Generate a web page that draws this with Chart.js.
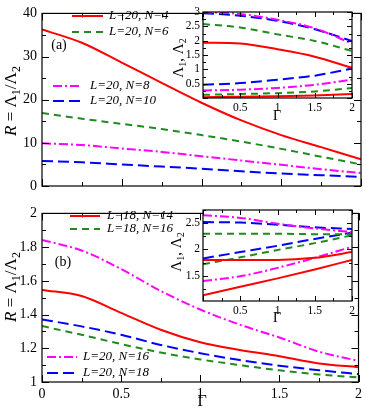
<!DOCTYPE html>
<html>
<head>
<meta charset="utf-8">
<script src="https://cdn.jsdelivr.net/npm/chart.js@4.4.0/dist/chart.umd.min.js"></script>
<style>
  body { margin: 0; background: #fff; width: 366px; height: 414px; position: relative; overflow: hidden; }
  canvas { position: absolute; }
</style>
</head>
<body>
<canvas id="mainA" width="366" height="200" style="left:0;top:0"></canvas>
<canvas id="mainB" width="366" height="214" style="left:0;top:200px"></canvas>
<canvas id="insetA" width="206" height="130" style="left:160px;top:0"></canvas>
<canvas id="insetB" width="206" height="130" style="left:160px;top:200px"></canvas>
<script>
// ---- data ----
const gamma = [0, 0.25, 0.5, 0.75, 1, 1.25, 1.5, 1.75, 2];

// panel (a): R = L1/L2, L=20
const ratioN4  = [36.3, 33.2, 28.6, 23.9, 19.3, 15.2, 11.8, 9.0, 6.2];
const ratioN6  = [16.9, 15.6, 14.4, 13.2, 11.8, 10.3, 8.6, 6.8, 5.0];
const ratioN8  = [9.9, 9.5, 8.7, 7.9, 6.9, 5.9, 4.9, 3.9, 3.0];
const ratioN10 = [5.8, 5.5, 5.0, 4.5, 4.0, 3.4, 2.9, 2.5, 2.1];

// panel (b)
const ratioL18N14 = [1.546, 1.51, 1.41, 1.31, 1.236, 1.19, 1.153, 1.11, 1.088];
const ratioL18N16 = [1.332, 1.28, 1.225, 1.175, 1.134, 1.10, 1.069, 1.045, 1.027];
const ratioL20N16 = [1.843, 1.78, 1.67, 1.54, 1.43, 1.34, 1.264, 1.18, 1.125];
const ratioL20N18 = [1.371, 1.33, 1.28, 1.22, 1.171, 1.13, 1.097, 1.07, 1.047];

// insets: Lambda1 (upper) and Lambda2 (lower)
const gammaIn = [0, 0.5, 1, 1.5, 2];
const lam1N4  = [1.93, 1.90, 1.70, 1.44, 1.05];
const lam2N4  = [0.03, 0.04, 0.06, 0.09, 0.14];
const lam1N6  = [2.58, 2.46, 2.22, 1.99, 1.64];
const lam2N6  = [0.11, 0.14, 0.17, 0.23, 0.35];
const lam1N8  = [3.0, 2.93, 2.73, 2.43, 1.90];
const lam2N8  = [0.26, 0.29, 0.35, 0.46, 0.64];
const lam1N10 = [2.96, 2.87, 2.69, 2.40, 1.99];
const lam2N10 = [0.46, 0.52, 0.64, 0.78, 1.03];

const lam1L18N14 = [1.80, 1.80, 1.80, 1.84, 1.95];
const lam2L18N14 = [1.13, 1.29, 1.45, 1.62, 1.80];
const lam1L18N16 = [2.30, 2.30, 2.30, 2.29, 2.29];
const lam2L18N16 = [1.72, 1.85, 1.99, 2.12, 2.27];
const lam1L20N16 = [2.65, 2.60, 2.49, 2.40, 2.33];
const lam2L20N16 = [1.40, 1.49, 1.65, 1.84, 2.05];
const lam1L20N18 = [2.52, 2.51, 2.47, 2.42, 2.39];
const lam2L20N18 = [1.83, 1.95, 2.07, 2.20, 2.32];

// ---- styles ----
const SERIF = '"Liberation Serif", "DejaVu Serif", serif';
const RED = "#ff0000", GREEN = "#1e8c1e", BLUE = "#0000ff", MAGENTA = "#ff00ff";
const SOLID = [], SHORT = [7, 5], LONG = [11, 5], DASHDOT = [9, 3, 2, 3];

function series(xs, ys, color, dash) {
  return {
    data: xs.map((x, i) => ({ x: x, y: ys[i] })),
    borderColor: color, borderDash: dash, borderWidth: 2,
    pointRadius: 0, cubicInterpolationMode: "monotone", fill: false
  };
}

function fmt(v) { return String(+v.toFixed(2)); }

// rich text with subscripts
function drawRich(ctx, parts, x, y, rot) {
  ctx.save();
  ctx.translate(x, y);
  ctx.rotate(rot || 0);
  let w = 0;
  parts.forEach(p => { ctx.font = p.f; w += ctx.measureText(p.t).width; });
  let cx = -w / 2;
  ctx.textBaseline = "middle";
  ctx.textAlign = "left";
  ctx.fillStyle = "#000";
  parts.forEach(p => {
    ctx.font = p.f;
    ctx.fillText(p.t, cx, p.dy || 0);
    cx += ctx.measureText(p.t).width;
  });
  ctx.restore();
}

// frame, inward ticks, legends, labels
const decor = {
  id: "decor",
  beforeDraw(chart, args, o) {
    if (!o.whiteBg) return;
    const a = chart.chartArea, ctx = chart.ctx;
    ctx.save();
    ctx.fillStyle = "#fff";
    ctx.fillRect(a.left, a.top, a.right - a.left, a.bottom - a.top);
    ctx.restore();
  },
  afterDraw(chart, args, o) {
    const ctx = chart.ctx, a = chart.chartArea;
    const xs = chart.scales.x, ys = chart.scales.y;
    ctx.save();
    ctx.strokeStyle = "#000";
    ctx.lineWidth = 1.2;
    ctx.strokeRect(a.left, a.top, a.right - a.left, a.bottom - a.top);

    function ticks(scale, step, len, horiz) {
      const start = Math.ceil(scale.min / step - 1e-6) * step;
      const n = Math.floor((scale.max - start) / step + 1e-6);
      for (let i = 0; i <= n; i++) {
        const p = Math.round(scale.getPixelForValue(start + i * step)) + 0.5;
        ctx.beginPath();
        if (horiz) {
          ctx.moveTo(p, a.bottom); ctx.lineTo(p, a.bottom - len);
          ctx.moveTo(p, a.top); ctx.lineTo(p, a.top + len);
        } else {
          ctx.moveTo(a.left, p); ctx.lineTo(a.left + len, p);
          ctx.moveTo(a.right, p); ctx.lineTo(a.right - len, p);
        }
        ctx.stroke();
      }
    }
    ctx.lineWidth = 1;
    ticks(xs, o.xMajor, o.major, true);
    ticks(xs, o.xMinor, o.minor, true);
    ticks(ys, o.yMajor, o.major, false);
    ticks(ys, o.yMinor, o.minor, false);

    (o.legend || []).forEach(l => {
      ctx.beginPath();
      ctx.strokeStyle = l.color;
      ctx.lineWidth = 2;
      ctx.setLineDash(l.dash);
      ctx.moveTo(l.x1, l.y); ctx.lineTo(l.x2, l.y);
      ctx.stroke();
      ctx.setLineDash([]);
      ctx.fillStyle = "#000";
      ctx.font = "italic 13px " + SERIF;
      ctx.textBaseline = "middle";
      ctx.textAlign = "left";
      ctx.fillText(l.text, l.tx, l.y);
    });
    (o.texts || []).forEach(t => drawRich(ctx, t.parts, t.x, t.y, t.rot));
    ctx.restore();
  }
};
Chart.register(decor);

function fixed(size, horiz) {
  return function (scale) {
    if (horiz) scale.height = size; else scale.width = size;
  };
}

function makeChart(id, datasets, cfg) {
  return new Chart(document.getElementById(id), {
    type: "line",
    data: { datasets: datasets },
    options: {
      responsive: false, animation: false, devicePixelRatio: 1,
      layout: { padding: cfg.padding },
      plugins: { legend: { display: false }, tooltip: { enabled: false }, decor: cfg.decor },
      scales: {
        x: {
          type: "linear", min: 0, max: 2,
          grid: { display: false, drawTicks: false }, border: { display: false },
          ticks: {
            display: cfg.xLabels, stepSize: 0.5, autoSkip: false, maxRotation: 0, padding: cfg.xPad,
            color: "#000", font: { family: SERIF, size: cfg.tickSize },
            callback: v => (cfg.hideZero && v === 0) ? "" : fmt(v)
          },
          afterFit: fixed(cfg.xHeight, true)
        },
        y: {
          type: "linear", min: cfg.yMin, max: cfg.yMax,
          grid: { display: false, drawTicks: false }, border: { display: false },
          ticks: {
            stepSize: cfg.yStep, autoSkip: false, padding: cfg.yPad,
            color: "#000", font: { family: SERIF, size: cfg.tickSize },
            callback: cfg.yCallback
          },
          afterFit: fixed(cfg.yWidth, false)
        }
      }
    }
  });
}

const big = "17px " + SERIF, bigI = "italic 17px " + SERIF, sub = "12px " + SERIF;
const ratioTitle = [
  { t: "R", f: bigI }, { t: " = Λ", f: big }, { t: "1", f: sub, dy: 5 },
  { t: "/Λ", f: big }, { t: "2", f: sub, dy: 5 }
];
const lamTitle = [
  { t: "Λ", f: "15px " + SERIF }, { t: "1", f: "10px " + SERIF, dy: 4 },
  { t: ", Λ", f: "15px " + SERIF }, { t: "2", f: "10px " + SERIF, dy: 4 }
];

// ---- panel (a) ----
makeChart("mainA", [
  series(gamma, ratioN4, RED, SOLID),
  series(gamma, ratioN6, GREEN, SHORT),
  series(gamma, ratioN8, MAGENTA, DASHDOT),
  series(gamma, ratioN10, BLUE, LONG)
], {
  padding: { left: 0, right: 5, top: 6, bottom: 0 },
  xLabels: false, xPad: 4, xHeight: 14, yWidth: 42, yPad: 5, tickSize: 14,
  yMin: 0, yMax: 40, yStep: 10, yCallback: v => fmt(v),
  decor: {
    xMajor: 0.5, xMinor: 0.25, yMajor: 10, yMinor: 5, major: 7, minor: 4,
    legend: [
      { x1: 72, x2: 103, y: 16, tx: 109, color: RED, dash: SOLID, text: "L=20, N=4" },
      { x1: 72, x2: 104, y: 32, tx: 109, color: GREEN, dash: SHORT, text: "L=20, N=6" },
      { x1: 53, x2: 82, y: 86, tx: 90, color: MAGENTA, dash: DASHDOT, text: "L=20, N=8" },
      { x1: 53, x2: 82, y: 101, tx: 90, color: BLUE, dash: LONG, text: "L=20, N=10" }
    ],
    texts: [
      { parts: ratioTitle, x: 12, y: 101, rot: -Math.PI / 2 },
      { parts: [{ t: "(a)", f: "14px " + SERIF }], x: 59, y: 45 }
    ]
  }
});

// ---- panel (b) ----
makeChart("mainB", [
  series(gamma, ratioL18N14, RED, SOLID),
  series(gamma, ratioL18N16, GREEN, SHORT),
  series(gamma, ratioL20N16, MAGENTA, DASHDOT),
  series(gamma, ratioL20N18, BLUE, LONG)
], {
  padding: { left: 0, right: 5, top: 2, bottom: 0 },
  xLabels: true, xPad: 4, xHeight: 32, yWidth: 42, yPad: 5, tickSize: 14,
  yMin: 1, yMax: 2, yStep: 0.2, yCallback: v => fmt(v),
  decor: {
    xMajor: 0.5, xMinor: 0.25, yMajor: 0.2, yMinor: 0.1, major: 7, minor: 4,
    legend: [
      { x1: 70, x2: 100, y: 16, tx: 107, color: RED, dash: SOLID, text: "L=18, N=14" },
      { x1: 70, x2: 100, y: 29, tx: 107, color: GREEN, dash: SHORT, text: "L=18, N=16" },
      { x1: 47, x2: 77, y: 157, tx: 83, color: MAGENTA, dash: DASHDOT, text: "L=20, N=16" },
      { x1: 47, x2: 77, y: 173, tx: 83, color: BLUE, dash: LONG, text: "L=20, N=18" }
    ],
    texts: [
      { parts: ratioTitle, x: 12, y: 87, rot: -Math.PI / 2 },
      { parts: [{ t: "(b)", f: "14px " + SERIF }], x: 63, y: 62 },
      { parts: [{ t: "Γ", f: "16px " + SERIF }], x: 202, y: 202 }
    ]
  }
});

// ---- inset (a) ----
makeChart("insetA", [
  series(gammaIn, lam1N4, RED, SOLID), series(gammaIn, lam2N4, RED, SOLID),
  series(gammaIn, lam1N6, GREEN, SHORT), series(gammaIn, lam2N6, GREEN, SHORT),
  series(gammaIn, lam1N8, MAGENTA, DASHDOT), series(gammaIn, lam2N8, MAGENTA, DASHDOT),
  series(gammaIn, lam1N10, BLUE, LONG), series(gammaIn, lam2N10, BLUE, LONG)
], {
  padding: { left: 0, right: 14, top: 12, bottom: 0 },
  xLabels: true, xPad: 3, xHeight: 32, yWidth: 43, yPad: 3, tickSize: 11.5, hideZero: true,
  yMin: 0, yMax: 3, yStep: 0.5, yCallback: v => v === 0 ? "" : fmt(v),
  decor: {
    whiteBg: true,
    xMajor: 0.5, xMinor: 0.25, yMajor: 0.5, yMinor: 0.25, major: 5, minor: 3,
    texts: [
      { parts: lamTitle, x: 19, y: 58, rot: -Math.PI / 2 },
      { parts: [{ t: "Γ", f: "14px " + SERIF }], x: 117, y: 116 }
    ]
  }
});

// ---- inset (b) ----
makeChart("insetB", [
  series(gammaIn, lam1L18N14, RED, SOLID), series(gammaIn, lam2L18N14, RED, SOLID),
  series(gammaIn, lam1L18N16, GREEN, SHORT), series(gammaIn, lam2L18N16, GREEN, SHORT),
  series(gammaIn, lam1L20N16, MAGENTA, DASHDOT), series(gammaIn, lam2L20N16, MAGENTA, DASHDOT),
  series(gammaIn, lam1L20N18, BLUE, LONG), series(gammaIn, lam2L20N18, BLUE, LONG)
], {
  padding: { left: 0, right: 14, top: 10, bottom: 0 },
  xLabels: true, xPad: 3, xHeight: 29, yWidth: 43, yPad: 3, tickSize: 11.5, hideZero: true,
  yMin: 1.02, yMax: 2.75, yStep: 0.5,
  yCallback: v => (Math.abs(v * 2 - Math.round(v * 2)) < 1e-6 && v > 1.2) ? fmt(v) : "",
  decor: {
    whiteBg: true,
    xMajor: 0.5, xMinor: 0.25, yMajor: 0.5, yMinor: 0.25, major: 5, minor: 3,
    texts: [
      { parts: lamTitle, x: 17, y: 52, rot: -Math.PI / 2 },
      { parts: [{ t: "Γ", f: "14px " + SERIF }], x: 117, y: 118 }
    ]
  }
});
</script>
</body>
</html>
